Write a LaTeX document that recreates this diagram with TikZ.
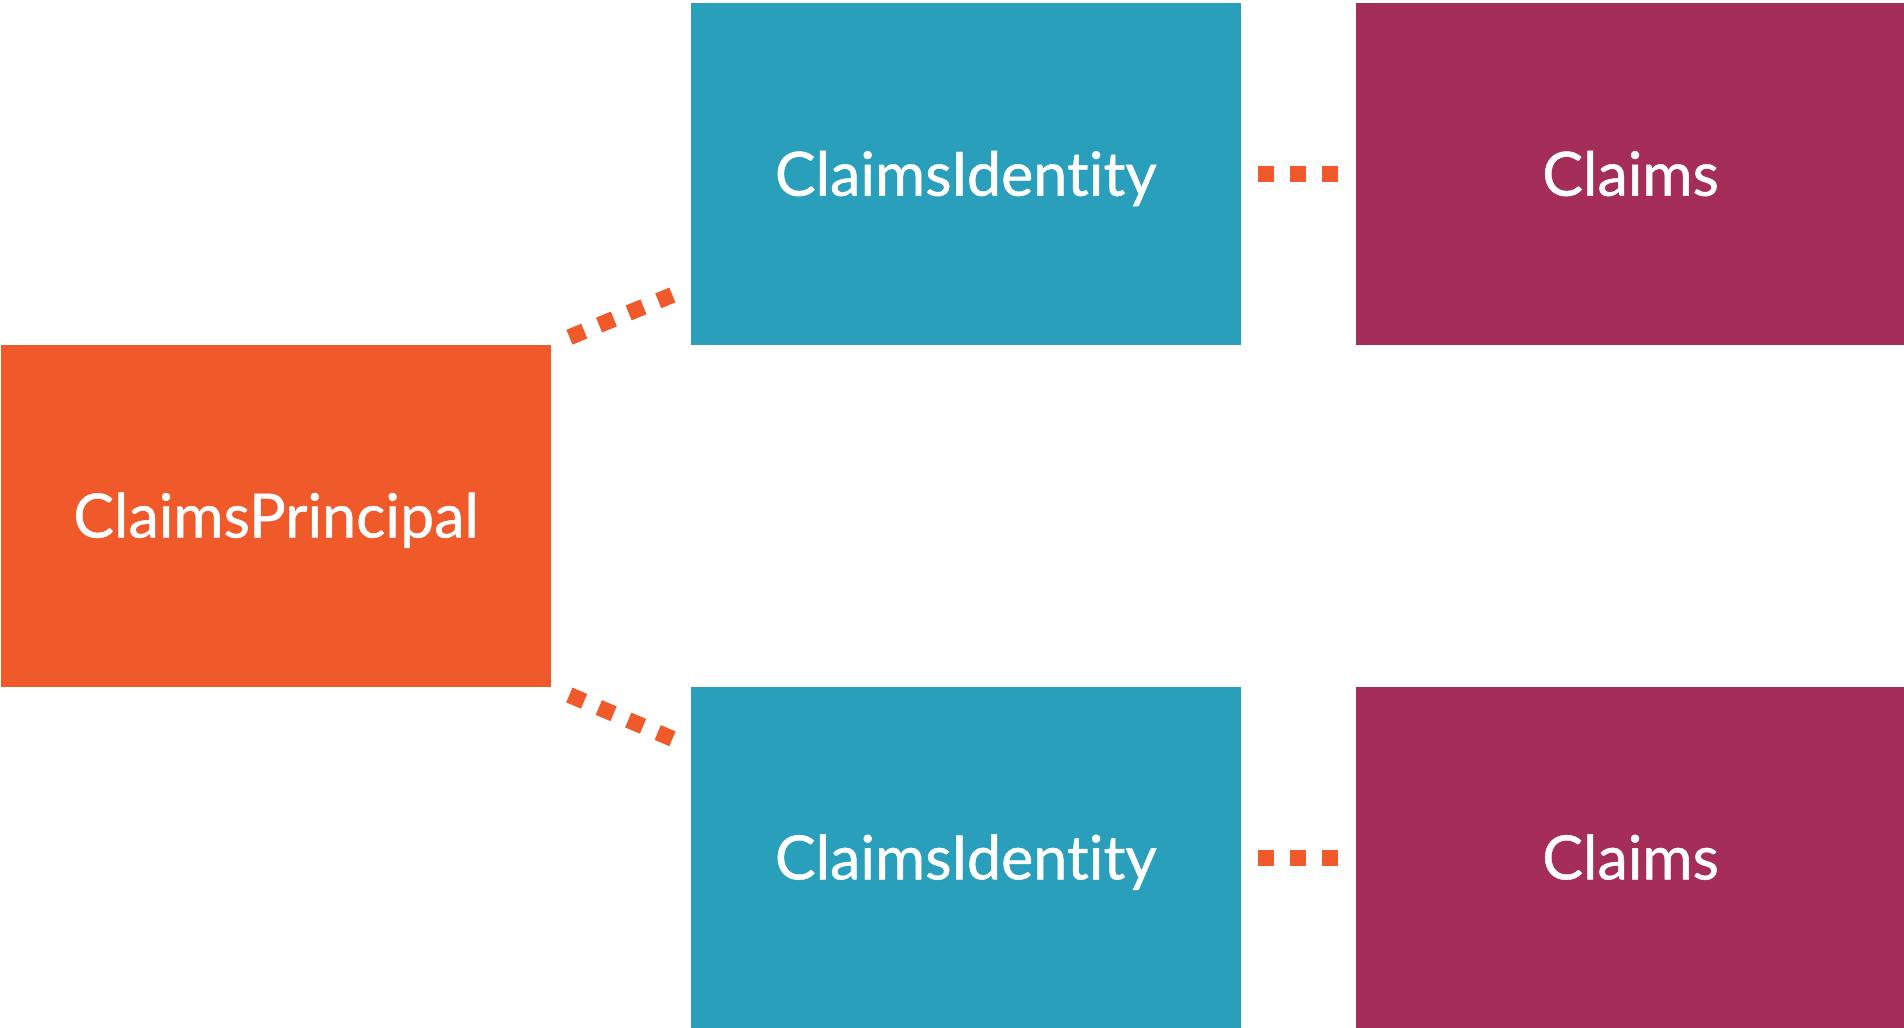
\documentclass[tikz,border=0pt]{standalone}
\usepackage{fontspec}
\setmainfont{Lato}[Ligatures=NoCommon, FakeBold=0.8]
\usetikzlibrary{positioning}
\definecolor{principalorange}{RGB}{240,90,42}
\definecolor{identityblue}{RGB}{42,159,188}
\definecolor{claimsred}{RGB}{165,45,90}
\tikzset{
	box/.style = {shape=rectangle, minimum width=275pt, minimum height=171pt, inner sep=0pt, text=white, text height=21.5pt, text depth=0pt, font=\fontsize{30.5}{36}\selectfont},
	principal/.style = {box, fill=principalorange},
	identity/.style = {box, fill=identityblue},
	claims/.style = {box, fill=claimsred},
	link/.style = {draw=principalorange, line width=8pt, dash pattern=on 8pt off 8pt}
}

\begin{document}
\begin{tikzpicture}
	\useasboundingbox (0,0) rectangle (952pt,-513.5pt);
	% the boxes
	\node[principal] (principal) at (138pt,-258pt) {ClaimsPrincipal};
	\node[identity, above right=-0.5pt and 69.5pt of principal] (identity1) {ClaimsIdentity};
	\node[claims, right=57pt of identity1] (claims1) {Claims};
	\node[identity, below right=-0.5pt and 69.5pt of principal] (identity2) {ClaimsIdentity};
	\node[claims, right=57pt of identity2] (claims2) {Claims};

	% ends of the slanted links
	\coordinate (in1) at ([yshift=29pt]identity1.south west);
	\coordinate (in2) at ([yshift=-30pt]identity2.north west);

	\draw[link, shorten <=9.75pt, shorten >=9.75pt] (principal.north east) -- (in1);
	\draw[link, shorten <=9.75pt, shorten >=9.75pt] (principal.south east) -- (in2);
	\draw[link, shorten <=8.5pt, shorten >=8.5pt] (identity1) -- (claims1);
	\draw[link, shorten <=8.5pt, shorten >=8.5pt] (identity2) -- (claims2);
\end{tikzpicture}
\end{document}
